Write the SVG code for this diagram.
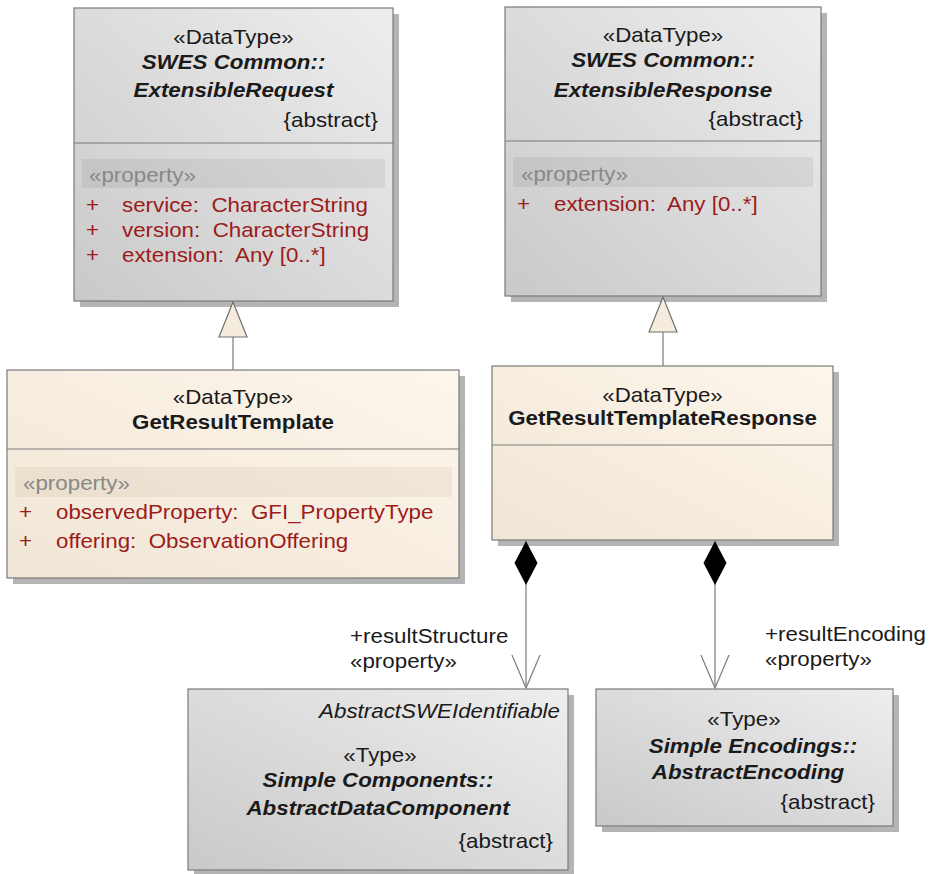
<svg xmlns="http://www.w3.org/2000/svg" width="929" height="874" viewBox="0 0 929 874">
  <style>
    .t { font-family: "Liberation Sans", Arial, sans-serif; font-size: 20.5px; fill: #1a1a1a; white-space: pre; }
    .c { text-anchor: middle; }
    .e { text-anchor: end; }
    .bi { font-weight: bold; font-style: italic; }
    .b { font-weight: bold; }
    .i { font-style: italic; }
    .st { fill: #888888; }
    .at { fill: #9c1b1b; }
    .box { stroke: #7a7a7a; stroke-width: 1.2; }
    .gray { fill: url(#gGray); }
    .beige { fill: url(#gBeige); }
    .shadow { fill: #b4b4b4; }
    .div { stroke: #7a7a7a; stroke-width: 1.2; }
    .bandG { fill: #000000; fill-opacity: 0.06; }
    .bandB { fill: #7a5a30; fill-opacity: 0.07; }
    .edge { fill: none; stroke: #858585; stroke-width: 1.3; }
  </style>
  <defs>
    <linearGradient id="gGray" x1="0" y1="1" x2="1" y2="0">
      <stop offset="0" stop-color="#c9c9c9"/>
      <stop offset="1" stop-color="#eeeeee"/>
    </linearGradient>
    <linearGradient id="gBeige" x1="0" y1="1" x2="1" y2="0">
      <stop offset="0" stop-color="#f1e6d5"/>
      <stop offset="1" stop-color="#fdf6ec"/>
    </linearGradient>
    <!-- hollow triangle for generalization -->
    <marker id="mGen" markerUnits="userSpaceOnUse" orient="auto" refX="0" refY="0" markerWidth="40" markerHeight="32" overflow="visible">
      <path d="M0,0 L-35,-14 L-35,14 Z" fill="#f6ecdd" stroke="#707070" stroke-width="1.2"/>
    </marker>
    <!-- filled diamond for composition -->
    <marker id="mComp" markerUnits="userSpaceOnUse" orient="auto" refX="0" refY="0" markerWidth="46" markerHeight="26" overflow="visible">
      <path d="M0,0 L22,-11.5 L44,0 L22,11.5 Z" fill="#000000"/>
    </marker>
    <!-- open navigability arrow -->
    <marker id="mOpen" markerUnits="userSpaceOnUse" orient="auto" refX="0" refY="0" markerWidth="36" markerHeight="32" overflow="visible">
      <path d="M-33,-14 L0,0 L-33,14" fill="none" stroke="#858585" stroke-width="1.3"/>
    </marker>
  </defs>

  <rect width="929" height="874" fill="#ffffff"/>

  <!-- SWES Common::ExtensibleRequest -->
  <g id="extensibleRequest">
    <rect class="shadow" x="80" y="14" width="319" height="293"/>
    <rect class="box gray" x="74" y="8" width="319" height="293"/>
    <line class="div" x1="74" y1="143" x2="393" y2="143"/>
    <rect class="bandG" x="82" y="159" width="303" height="29"/>
    <text class="t c" transform="translate(233.5 44) scale(1.09 1)">«DataType»</text>
    <text class="t c bi" transform="translate(233.5 69) scale(1.09 1)">SWES Common::</text>
    <text class="t c bi" transform="translate(233.5 97) scale(1.09 1)">ExtensibleRequest</text>
    <text class="t e" transform="translate(378 127) scale(1.09 1)">{abstract}</text>
    <text class="t st" transform="translate(89 182) scale(1.09 1)">«property»</text>
    <text class="t at" transform="translate(86 212) scale(1.09 1)">+</text>
    <text class="t at" transform="translate(122 212) scale(1.09 1)">service:  CharacterString</text>
    <text class="t at" transform="translate(86 237) scale(1.09 1)">+</text>
    <text class="t at" transform="translate(122 237) scale(1.09 1)">version:  CharacterString</text>
    <text class="t at" transform="translate(86 262) scale(1.09 1)">+</text>
    <text class="t at" transform="translate(122 262) scale(1.09 1)">extension:  Any [0..*]</text>
  </g>

  <!-- SWES Common::ExtensibleResponse -->
  <g id="extensibleResponse">
    <rect class="shadow" x="511" y="13" width="316" height="289"/>
    <rect class="box gray" x="505" y="7" width="316" height="289"/>
    <line class="div" x1="505" y1="141" x2="821" y2="141"/>
    <rect class="bandG" x="513" y="157" width="300" height="30"/>
    <text class="t c" transform="translate(663 42) scale(1.09 1)">«DataType»</text>
    <text class="t c bi" transform="translate(663 67) scale(1.09 1)">SWES Common::</text>
    <text class="t c bi" transform="translate(663 97) scale(1.09 1)">ExtensibleResponse</text>
    <text class="t e" transform="translate(803 126) scale(1.09 1)">{abstract}</text>
    <text class="t st" transform="translate(521 181) scale(1.09 1)">«property»</text>
    <text class="t at" transform="translate(517 211) scale(1.09 1)">+</text>
    <text class="t at" transform="translate(554 211) scale(1.09 1)">extension:  Any [0..*]</text>
  </g>

  <!-- GetResultTemplate -->
  <g id="getResultTemplate">
    <rect class="shadow" x="13" y="376" width="452" height="208"/>
    <rect class="box beige" x="7" y="370" width="452" height="208"/>
    <line class="div" x1="7" y1="449" x2="459" y2="449"/>
    <rect class="bandB" x="15" y="467" width="437" height="30"/>
    <text class="t c" transform="translate(233 404) scale(1.09 1)">«DataType»</text>
    <text class="t c b" transform="translate(233 429) scale(1.09 1)">GetResultTemplate</text>
    <text class="t st" transform="translate(23 490) scale(1.09 1)">«property»</text>
    <text class="t at" transform="translate(19 519) scale(1.09 1)">+</text>
    <text class="t at" transform="translate(56 519) scale(1.09 1)">observedProperty:  GFI_PropertyType</text>
    <text class="t at" transform="translate(19 548) scale(1.09 1)">+</text>
    <text class="t at" transform="translate(56 548) scale(1.09 1)">offering:  ObservationOffering</text>
  </g>

  <!-- GetResultTemplateResponse -->
  <g id="getResultTemplateResponse">
    <rect class="shadow" x="498" y="372" width="341" height="174"/>
    <rect class="box beige" x="492" y="366" width="341" height="174"/>
    <line class="div" x1="492" y1="445" x2="833" y2="445"/>
    <text class="t c" transform="translate(662.5 402) scale(1.09 1)">«DataType»</text>
    <text class="t c b" transform="translate(662.5 425) scale(1.09 1)">GetResultTemplateResponse</text>
  </g>

  <!-- Simple Components::AbstractDataComponent -->
  <g id="abstractDataComponent">
    <rect class="shadow" x="194" y="695" width="380" height="181"/>
    <rect class="box gray" x="188" y="689" width="380" height="181"/>
    <text class="t e i" transform="translate(560 718) scale(1.09 1)">AbstractSWEIdentifiable</text>
    <text class="t c" transform="translate(380 762) scale(1.09 1)">«Type»</text>
    <text class="t c bi" transform="translate(378 787) scale(1.09 1)">Simple Components::</text>
    <text class="t c bi" transform="translate(378 815) scale(1.09 1)">AbstractDataComponent</text>
    <text class="t e" transform="translate(553 848) scale(1.09 1)">{abstract}</text>
  </g>

  <!-- Simple Encodings::AbstractEncoding -->
  <g id="abstractEncoding">
    <rect class="shadow" x="602" y="695" width="297" height="137"/>
    <rect class="box gray" x="596" y="689" width="297" height="137"/>
    <text class="t c" transform="translate(744 726) scale(1.09 1)">«Type»</text>
    <text class="t c bi" transform="translate(753 753) scale(1.09 1)">Simple Encodings::</text>
    <text class="t c bi" transform="translate(748 779) scale(1.09 1)">AbstractEncoding</text>
    <text class="t e" transform="translate(875 809) scale(1.09 1)">{abstract}</text>
  </g>

  <!-- connectors -->
  <g id="connectors">
    <path class="edge" d="M233,370 L233,302" marker-end="url(#mGen)"/>
    <path class="edge" d="M663,366 L663,297" marker-end="url(#mGen)"/>
    <path class="edge" d="M526,541 L526,688" marker-start="url(#mComp)" marker-end="url(#mOpen)"/>
    <path class="edge" d="M715,541 L715,688" marker-start="url(#mComp)" marker-end="url(#mOpen)"/>
    <text class="t" transform="translate(350 643) scale(1.09 1)">+resultStructure</text>
    <text class="t" transform="translate(350 668) scale(1.09 1)">«property»</text>
    <text class="t" transform="translate(765 641) scale(1.09 1)">+resultEncoding</text>
    <text class="t" transform="translate(765 666) scale(1.09 1)">«property»</text>
  </g>
</svg>
